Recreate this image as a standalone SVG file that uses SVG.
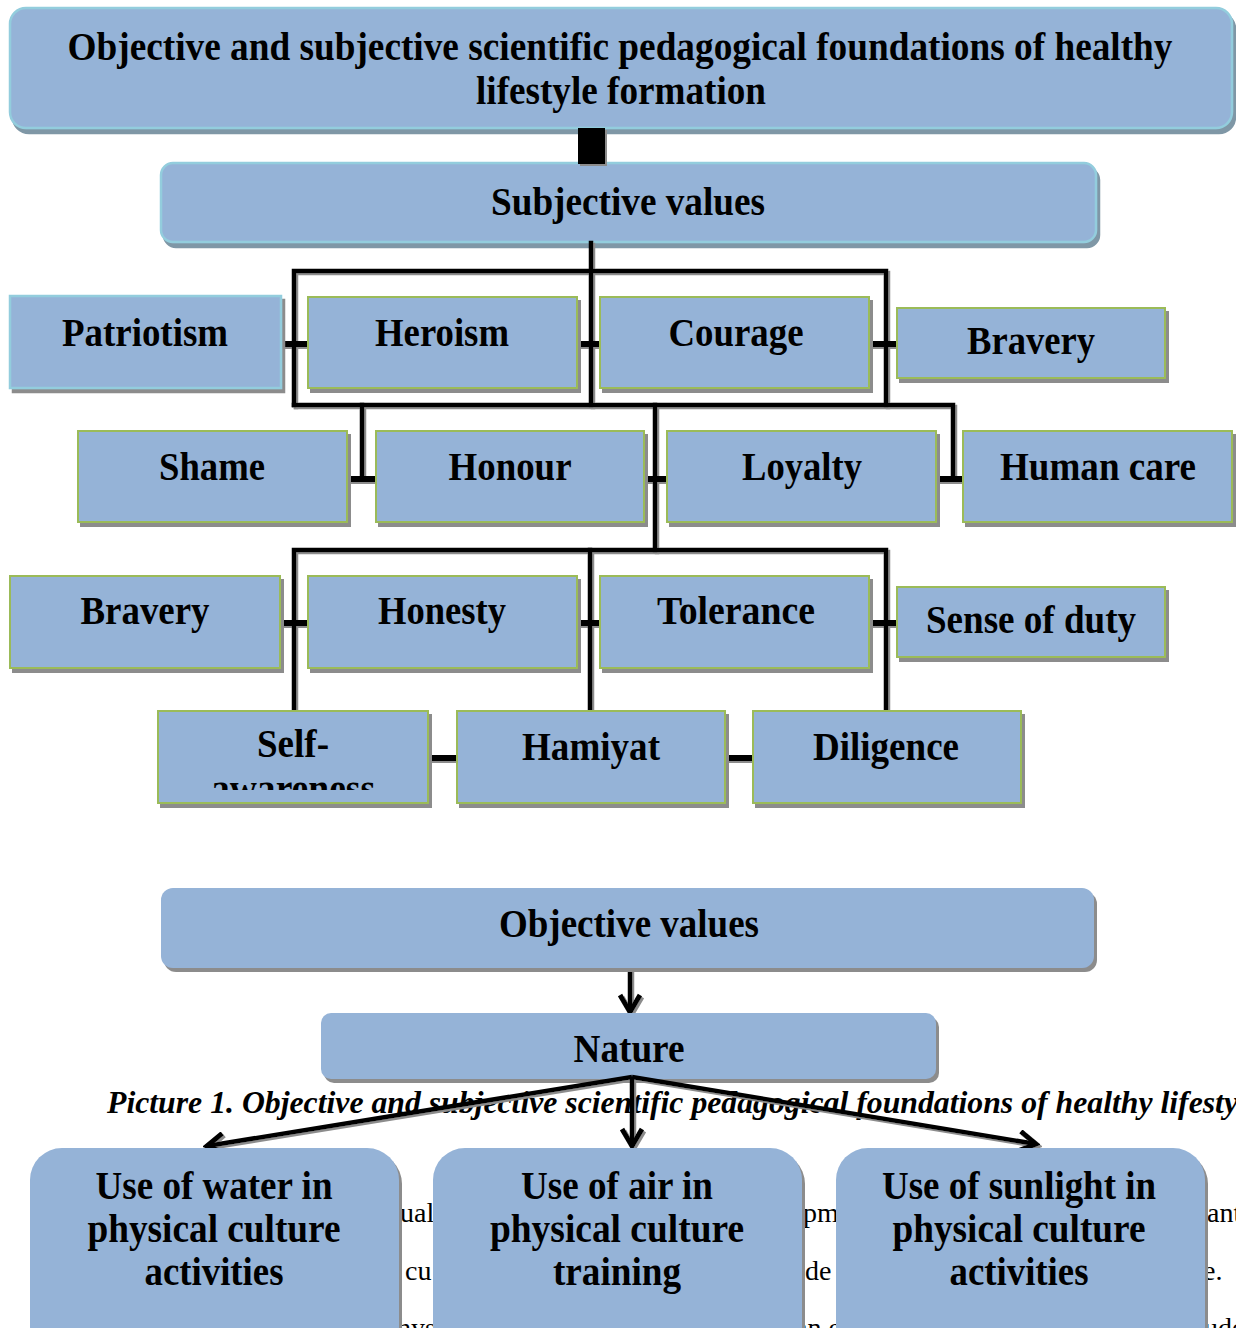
<svg xmlns="http://www.w3.org/2000/svg" width="1236" height="1328" viewBox="0 0 1236 1328">
<defs>
<style>
.bx{fill:#95B3D7;}
.tl{stroke:#93CDDD;stroke-width:2.5;}
.gr{stroke:#9BBB59;stroke-width:2;}
.t{font-family:"Liberation Serif","Times New Roman",serif;font-weight:bold;fill:#000;text-anchor:middle;}
.cap{font-family:"Liberation Serif","Times New Roman",serif;font-weight:bold;font-style:italic;fill:#000;}
.bg{font-family:"Liberation Serif","Times New Roman",serif;fill:#000;font-size:28px;}
.ln{stroke:#000;stroke-width:4.5;fill:none;stroke-linecap:square;}
.stb{stroke:#000;stroke-width:6;fill:none;}
.ar{stroke:#000;stroke-width:4.5;fill:none;marker-end:url(#ah);}
</style>
<filter id="sh" x="-5%" y="-5%" width="115%" height="130%">
<feDropShadow dx="3" dy="4" stdDeviation="0.6" flood-color="#8c8c8c" flood-opacity="1"/>
</filter>
<filter id="shb" x="-5%" y="-5%" width="115%" height="130%">
<feDropShadow dx="3" dy="5" stdDeviation="0.6" flood-color="#7f97a6" flood-opacity="1"/>
</filter>
<filter id="lsh" x="-5%" y="-5%" width="115%" height="130%">
<feDropShadow dx="2" dy="2" stdDeviation="0.6" flood-color="#8c8c8c" flood-opacity="1"/>
</filter>
<marker id="ah" viewBox="0 0 24 24" refX="20" refY="12" markerWidth="24" markerHeight="24" markerUnits="userSpaceOnUse" orient="auto">
<path d="M3,2 L20,12 L3,22" fill="none" stroke="#000" stroke-width="5"/>
</marker>
<clipPath id="selfclip"><rect x="158" y="711" width="270" height="79"/></clipPath>
</defs>

<!-- background text fragments -->
<g id="bgtext">
<text class="bg" x="400" y="1222">ual</text>
<text class="bg" x="405" y="1280">cu</text>
<text class="bg" x="383" y="1337">phys</text>
<text class="bg" x="803" y="1222">pm</text>
<text class="bg" x="805" y="1280">de</text>
<text class="bg" x="795" y="1337">an e</text>
<text class="bg" x="1207" y="1222">ant</text>
<text class="bg" x="1203" y="1280">e.</text>
<text class="bg" x="1204" y="1337">ude</text>
</g>

<g id="title" filter="url(#shb)">
<rect class="bx tl" x="10" y="8" width="1222" height="120" rx="16"/>
</g>
<g id="title-text">
<text class="t" x="620" y="60" font-size="41" textLength="1105" lengthAdjust="spacingAndGlyphs">Objective and subjective scientific pedagogical foundations of healthy</text>
<text class="t" x="621" y="104" font-size="41" textLength="290" lengthAdjust="spacingAndGlyphs">lifestyle formation</text>
</g>

<g id="subjective" filter="url(#shb)">
<rect class="bx tl" x="161" y="163" width="935" height="79" rx="12"/>
</g>
<text class="t" x="628" y="215" font-size="40" textLength="274" lengthAdjust="spacingAndGlyphs">Subjective values</text>

<!-- connectors -->
<g id="connectors" filter="url(#lsh)">
<rect x="578" y="128" width="27" height="36" fill="#000"/>
<path class="ln" d="M591,243 V405"/>
<path class="ln" d="M294,405 V271 H886 V405"/>
<path class="ln" d="M294,405 H953 V478"/>
<path class="ln" d="M362,405 V478"/>
<path class="ln" d="M655,405 V550"/>
<path class="ln" d="M294,711 V550 H886 V711"/>
<path class="ln" d="M590,550 V711"/>
<path class="stb" d="M281,344 H308 M577,344 H600 M869,344 H897"/>
<path class="stb" d="M347,479 H376 M644,479 H667 M936,479 H963"/>
<path class="stb" d="M280,623 H308 M577,623 H600 M869,623 H897"/>
<path class="stb" d="M428,758 H457 M725,758 H753"/>
<path class="ar" d="M630,968 V1012"/>
</g>

<!-- row 1 -->
<g id="patriotism" filter="url(#sh)"><rect class="bx tl" x="10" y="296" width="271" height="92"/></g>
<text class="t" x="145" y="346" font-size="40" textLength="166" lengthAdjust="spacingAndGlyphs">Patriotism</text>
<g id="heroism" filter="url(#sh)"><rect class="bx gr" x="308" y="297" width="269" height="91"/></g>
<text class="t" x="442" y="346" font-size="40" textLength="134" lengthAdjust="spacingAndGlyphs">Heroism</text>
<g id="courage" filter="url(#sh)"><rect class="bx gr" x="600" y="297" width="269" height="91"/></g>
<text class="t" x="736" y="346" font-size="40" textLength="135" lengthAdjust="spacingAndGlyphs">Courage</text>
<g id="bravery1" filter="url(#sh)"><rect class="bx gr" x="897" y="308" width="268" height="70"/></g>
<text class="t" x="1031" y="354" font-size="40" textLength="128" lengthAdjust="spacingAndGlyphs">Bravery</text>

<!-- row 2 -->
<g id="shame" filter="url(#sh)"><rect class="bx gr" x="78" y="431" width="269" height="91"/></g>
<text class="t" x="212" y="480" font-size="40" textLength="106" lengthAdjust="spacingAndGlyphs">Shame</text>
<g id="honour" filter="url(#sh)"><rect class="bx gr" x="376" y="431" width="268" height="91"/></g>
<text class="t" x="510" y="480" font-size="40" textLength="123" lengthAdjust="spacingAndGlyphs">Honour</text>
<g id="loyalty" filter="url(#sh)"><rect class="bx gr" x="667" y="431" width="269" height="91"/></g>
<text class="t" x="802" y="480" font-size="40" textLength="120" lengthAdjust="spacingAndGlyphs">Loyalty</text>
<g id="humancare" filter="url(#sh)"><rect class="bx gr" x="963" y="431" width="269" height="91"/></g>
<text class="t" x="1098" y="480" font-size="40" textLength="196" lengthAdjust="spacingAndGlyphs">Human care</text>

<!-- row 3 -->
<g id="bravery2" filter="url(#sh)"><rect class="bx gr" x="10" y="576" width="270" height="92"/></g>
<text class="t" x="145" y="624" font-size="40" textLength="129" lengthAdjust="spacingAndGlyphs">Bravery</text>
<g id="honesty" filter="url(#sh)"><rect class="bx gr" x="308" y="576" width="269" height="92"/></g>
<text class="t" x="442" y="624" font-size="40" textLength="128" lengthAdjust="spacingAndGlyphs">Honesty</text>
<g id="tolerance" filter="url(#sh)"><rect class="bx gr" x="600" y="576" width="269" height="92"/></g>
<text class="t" x="736" y="624" font-size="40" textLength="158" lengthAdjust="spacingAndGlyphs">Tolerance</text>
<g id="senseofduty" filter="url(#sh)"><rect class="bx gr" x="897" y="587" width="268" height="70"/></g>
<text class="t" x="1031" y="633" font-size="40" textLength="210" lengthAdjust="spacingAndGlyphs">Sense of duty</text>

<!-- row 4 -->
<g id="selfawareness" filter="url(#sh)"><rect class="bx gr" x="158" y="711" width="270" height="92"/></g>
<text class="t" x="293" y="757" font-size="40" textLength="72" lengthAdjust="spacingAndGlyphs">Self-</text>
<g clip-path="url(#selfclip)"><text class="t" x="293" y="802" font-size="40" textLength="164" lengthAdjust="spacingAndGlyphs">awareness</text></g>
<g id="hamiyat" filter="url(#sh)"><rect class="bx gr" x="457" y="711" width="268" height="92"/></g>
<text class="t" x="591" y="760" font-size="40" textLength="138" lengthAdjust="spacingAndGlyphs">Hamiyat</text>
<g id="diligence" filter="url(#sh)"><rect class="bx gr" x="753" y="711" width="268" height="92"/></g>
<text class="t" x="886" y="760" font-size="40" textLength="146" lengthAdjust="spacingAndGlyphs">Diligence</text>

<!-- objective -->
<g id="objective" filter="url(#sh)"><rect class="bx" x="161" y="888" width="933" height="80" rx="12"/></g>
<text class="t" x="629" y="937" font-size="41" textLength="260" lengthAdjust="spacingAndGlyphs">Objective values</text>
<g id="nature" filter="url(#sh)"><rect class="bx" x="321" y="1013" width="615" height="66" rx="10"/></g>
<text class="t" x="629" y="1062" font-size="40" textLength="111" lengthAdjust="spacingAndGlyphs">Nature</text>

<text class="cap" x="107" y="1113" font-size="31" textLength="1131" lengthAdjust="spacingAndGlyphs">Picture 1. Objective and subjective scientific pedagogical foundations of healthy lifesty</text>

<!-- Nature arrows (drawn above caption) -->
<g id="nature-arrows" filter="url(#lsh)">
<path class="ar" d="M632,1077 L207,1146"/>
<path class="ar" d="M632,1077 V1146"/>
<path class="ar" d="M632,1077 L1036,1144"/>
</g>

<!-- bottom boxes -->
<g id="water" filter="url(#sh)"><rect class="bx" x="30" y="1148" width="369" height="210" rx="32"/></g>
<text class="t" x="214" y="1199" font-size="39" textLength="237" lengthAdjust="spacingAndGlyphs">Use of water in</text>
<text class="t" x="214" y="1242" font-size="39" textLength="253" lengthAdjust="spacingAndGlyphs">physical culture</text>
<text class="t" x="214" y="1285" font-size="39" textLength="139" lengthAdjust="spacingAndGlyphs">activities</text>

<g id="air" filter="url(#sh)"><rect class="bx" x="433" y="1148" width="369" height="210" rx="32"/></g>
<text class="t" x="617" y="1199" font-size="39" textLength="192" lengthAdjust="spacingAndGlyphs">Use of air in</text>
<text class="t" x="617" y="1242" font-size="39" textLength="254" lengthAdjust="spacingAndGlyphs">physical culture</text>
<text class="t" x="617" y="1285" font-size="39" textLength="128" lengthAdjust="spacingAndGlyphs">training</text>

<g id="sunlight" filter="url(#sh)"><rect class="bx" x="836" y="1148" width="369" height="210" rx="32"/></g>
<text class="t" x="1019" y="1199" font-size="39" textLength="274" lengthAdjust="spacingAndGlyphs">Use of sunlight in</text>
<text class="t" x="1019" y="1242" font-size="39" textLength="253" lengthAdjust="spacingAndGlyphs">physical culture</text>
<text class="t" x="1019" y="1285" font-size="39" textLength="139" lengthAdjust="spacingAndGlyphs">activities</text>
</svg>
